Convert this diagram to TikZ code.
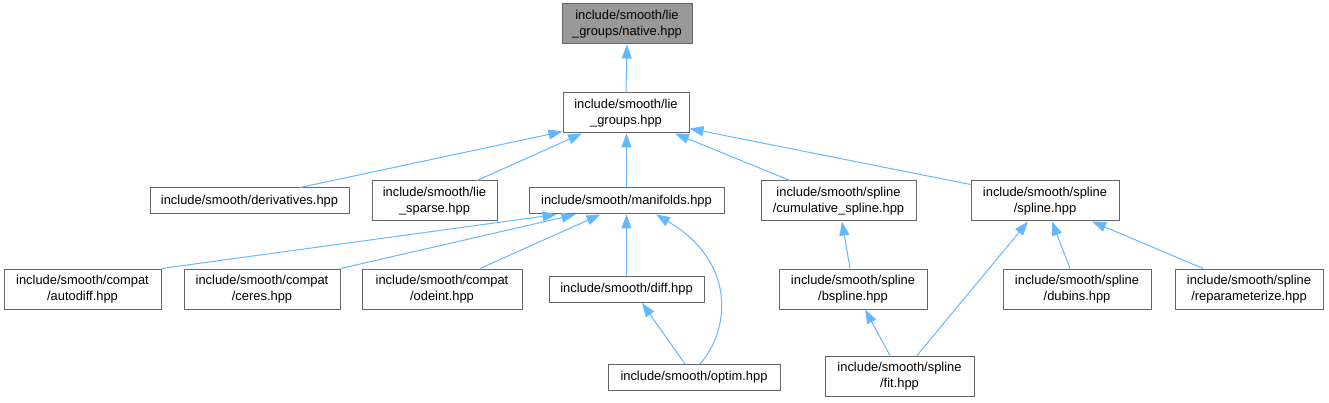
\documentclass[tikz,border=0pt]{standalone}
\usepackage{fontspec}
\setmainfont{Liberation Sans}
\usetikzlibrary{arrows.meta}
\definecolor{edgeblue}{RGB}{99,184,255}
\definecolor{boxborder}{RGB}{102,102,102}
\definecolor{rootfill}{RGB}{153,153,153}
\begin{document}
\begin{tikzpicture}[x=1pt,y=-1pt,
  filebox/.style={draw=boxborder,line width=1pt,fill=white,inner sep=0pt,align=center,
    font=\fontsize{12.9}{15.5}\selectfont},
  rootbox/.style={filebox,fill=rootfill},
  dep/.style={draw=edgeblue,line width=1pt,-{Triangle[length=14pt,width=10pt]}}]
\useasboundingbox (0,0) rectangle (1329,403);
% nodes
\node[rootbox,minimum width=130pt,minimum height=40pt] (native) at (627,24) {include/smooth/lie\\\_groups/native.hpp};
\node[filebox,minimum width=126pt,minimum height=40pt] (liegroups) at (626,113) {include/smooth/lie\\\_groups.hpp};
\node[filebox,minimum width=199pt,minimum height=26pt] (deriv) at (249.5,201) {include/smooth/derivatives.hpp};
\node[filebox,minimum width=125pt,minimum height=40pt] (sparse) at (434.5,201) {include/smooth/lie\\\_sparse.hpp};
\node[filebox,minimum width=195pt,minimum height=26pt] (manif) at (626.5,201) {include/smooth/manifolds.hpp};
\node[filebox,minimum width=155pt,minimum height=40pt] (cumul) at (838.5,201) {include/smooth/spline\\/cumulative\_spline.hpp};
\node[filebox,minimum width=148pt,minimum height=40pt] (spline) at (1045,201) {include/smooth/spline\\/spline.hpp};
\node[filebox,minimum width=157pt,minimum height=40pt] (autodiff) at (82.5,289) {include/smooth/compat\\/autodiff.hpp};
\node[filebox,minimum width=156pt,minimum height=40pt] (ceres) at (262,289) {include/smooth/compat\\/ceres.hpp};
\node[filebox,minimum width=160pt,minimum height=40pt] (odeint) at (442,289) {include/smooth/compat\\/odeint.hpp};
\node[filebox,minimum width=155pt,minimum height=26pt] (diff) at (626.5,289.5) {include/smooth/diff.hpp};
\node[filebox,minimum width=172pt,minimum height=26pt] (optim) at (694,377.5) {include/smooth/optim.hpp};
\node[filebox,minimum width=148pt,minimum height=40pt] (bspline) at (853,289) {include/smooth/spline\\/bspline.hpp};
\node[filebox,minimum width=149pt,minimum height=40pt] (fit) at (899.5,376) {include/smooth/spline\\/fit.hpp};
\node[filebox,minimum width=148pt,minimum height=40pt] (dubins) at (1077,289) {include/smooth/spline\\/dubins.hpp};
\node[filebox,minimum width=148pt,minimum height=40pt] (reparam) at (1249,289) {include/smooth/spline\\/reparameterize.hpp};
% edges
\draw[dep] (liegroups.north) -- (native.south);
\draw[dep] ([xshift=50.5pt]deriv.north) -- ([yshift=2pt]liegroups.south west);
\draw[dep] ([xshift=42.5pt]sparse.north) -- ([xshift=-44pt]liegroups.south);
\draw[dep] (manif.north) -- (manif.north |- liegroups.south);
\draw[dep] ([xshift=-48.5pt]cumul.north) -- ([xshift=49pt]liegroups.south);
\draw[dep] ([yshift=-4pt]spline.north west) -- ([yshift=5pt]liegroups.south east);
\draw[dep] (autodiff.north east) -- ([xshift=-70pt]manif.south);
\draw[dep] (ceres.north east) -- ([xshift=-51pt]manif.south);
\draw[dep] ([xshift=38pt]odeint.north) -- ([xshift=-26pt]manif.south);
\draw[dep] (diff.north) -- (manif.south);
\draw[dep] ([xshift=6pt]optim.north) .. controls (730,330) and (737,262) .. ([xshift=29.5pt]manif.south);
\draw[dep] ([xshift=-9pt]optim.north) -- ([xshift=15.5pt]diff.south);
\draw[dep] ([xshift=-3pt]bspline.north) -- ([xshift=3.5pt]cumul.south);
\draw[dep] ([xshift=-9.5pt]fit.north) -- ([xshift=12pt]bspline.south);
\draw[dep] ([xshift=17.5pt]fit.north) -- ([xshift=-17pt]spline.south);
\draw[dep] ([xshift=-7pt]dubins.north) -- ([xshift=7pt]spline.south);
\draw[dep] ([xshift=-46pt]reparam.north) -- ([xshift=47pt]spline.south);
\end{tikzpicture}
\end{document}
